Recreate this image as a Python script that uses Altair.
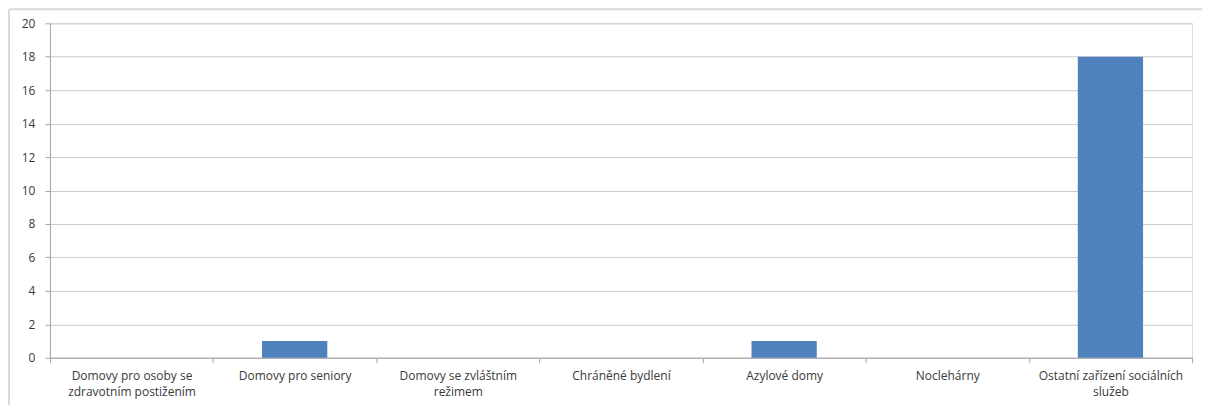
import altair as alt
import pandas as pd

categories = [
    "Domovy pro osoby se zdravotním postižením",
    "Domovy pro seniory",
    "Domovy se zvláštním režimem",
    "Chráněné bydlení",
    "Azylové domy",
    "Noclehárny",
    "Ostatní zařízení sociálních služeb",
]
values = [0, 1, 0, 0, 1, 0, 18]
label_lines = [
    ["Domovy pro osoby se", "zdravotním postižením"],
    ["Domovy pro seniory"],
    ["Domovy se zvláštním", "režimem"],
    ["Chráněné bydlení"],
    ["Azylové domy"],
    ["Noclehárny"],
    ["Ostatní zařízení sociálních", "služeb"],
]
y_ticks = [0, 2, 4, 6, 8, 10, 12, 14, 16, 18, 20]

df = pd.DataFrame({"cat": categories, "val": values})

expr = ""
for c, lines in zip(categories, label_lines):
    arr = "[" + ",".join("'" + l + "'" for l in lines) + "]"
    expr += f"datum.value == '{c}' ? {arr} : "
expr += "datum.value"

FONT = "Open Sans"

bars = alt.Chart(df).mark_bar(color="#4F81BD", width={"band": 0.4}).encode(
    x=alt.X("cat:N", sort=categories, title=None,
            scale=alt.Scale(paddingInner=0, paddingOuter=0),
            axis=alt.Axis(labelAngle=0, labelExpr=expr, tickBand="extent",
                          domainColor="#a6a6a6", tickColor="#a6a6a6", tickSize=5,
                          labelFont=FONT, labelFontSize=12, labelColor="#3a3a3a",
                          labelPadding=8, labelLineHeight=16, labelLimit=220,
                          grid=False)),
    y=alt.Y("val:Q", title=None,
            scale=alt.Scale(domain=[0, 20], nice=False),
            axis=alt.Axis(values=y_ticks, grid=True, gridColor="#cccccc",
                          domainColor="#a6a6a6", tickColor="#a6a6a6", tickSize=5,
                          labelFont=FONT, labelFontSize=12, labelColor="#3a3a3a",
                          labelPadding=10)),
)

frame_df = pd.DataFrame({"a": [0]})
top_line = alt.Chart(frame_df).mark_rule(color="#d9d9d9", strokeWidth=2).encode(
    x=alt.value(-41), x2=alt.value(1200), y=alt.value(-14))
left_line = alt.Chart(frame_df).mark_rule(color="#d9d9d9", strokeWidth=2).encode(
    x=alt.value(-41), y=alt.value(-14), y2=alt.value(400))

chart = alt.layer(top_line, left_line, bars).properties(
    width=1144, height=335,
    autosize=alt.AutoSizeParams(type="none"),
    padding={"left": 42, "top": 15, "right": 10, "bottom": 50},
).configure_view(stroke="#888888", strokeWidth=1).configure(background="white")

chart.save("out.html", embed_options={"renderer": "svg", "actions": False})
